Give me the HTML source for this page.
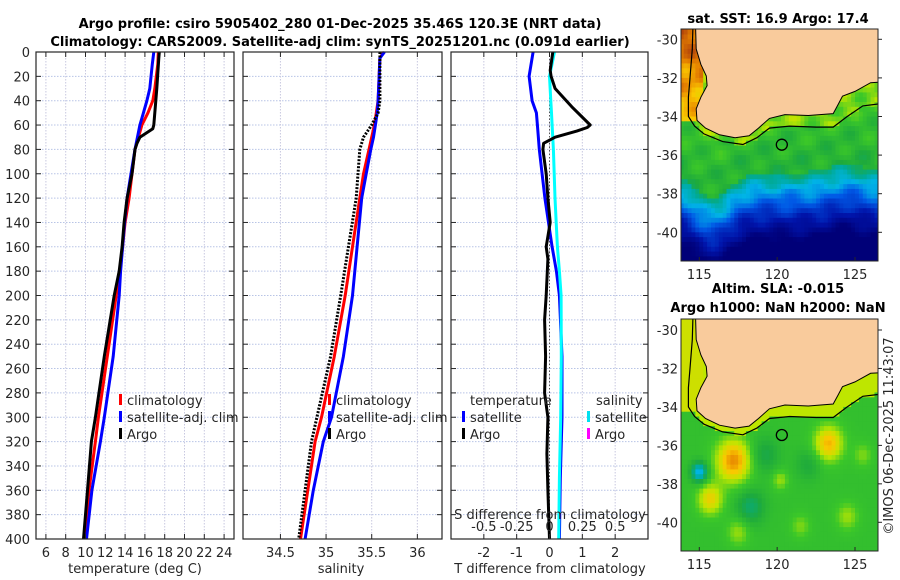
<!DOCTYPE html>
<html><head><meta charset="utf-8">
<style>
body{margin:0;background:#fff;}
svg{display:block;font-family:"DejaVu Sans","Liberation Sans",sans-serif;}
.t{font-size:13px;fill:#262626;}
.b{font-weight:bold;fill:#000;font-size:13px;}
</style></head>
<body>
<svg id="fig" width="900" height="580" viewBox="0 0 900 580">
<defs>
<clipPath id="c1"><rect x="681" y="29" width="197" height="232"/></clipPath>
<clipPath id="c2"><rect x="681" y="319" width="197" height="232"/></clipPath>
</defs>
<text class="b" x="340" y="28" text-anchor="middle">Argo profile: csiro 5905402_280 01-Dec-2025 35.46S 120.3E (NRT data)</text>
<text class="b" x="340" y="46" text-anchor="middle">Climatology: CARS2009. Satellite-adj clim: synTS_20251201.nc (0.091d earlier)</text>
<text class="b" x="778" y="23" text-anchor="middle">sat. SST: 16.9 Argo: 17.4</text>
<text class="b" x="778" y="293" text-anchor="middle">Altim. SLA: -0.015</text>
<text class="b" x="778" y="312" text-anchor="middle">Argo h1000: NaN h2000: NaN</text>
<text class="t" transform="translate(893,436) rotate(-90)" text-anchor="middle">©IMOS 06-Dec-2025 11:43:07</text>
<g id="plots"></g>
</svg>
<script>
// ---- data ----
const tDepth   = [0,5,30,40,50,60,63,70,75,80,100,120,140,160,180,200,250,300,320,360,400];
const tArgo    = [17.45,17.4,17.2,17.1,17.0,16.9,16.8,15.5,15.2,15.0,14.7,14.2,13.9,13.7,13.4,12.9,11.9,11.0,10.6,10.2,9.8];
const cDepth   = [0,10,30,40,50,60,80,100,120,140,160,180,200,250,300,320,360,400];
const tClim    = [17.35,17.3,17.0,16.8,16.3,15.7,15.0,14.7,14.4,14.0,13.75,13.5,13.1,12.2,11.3,11.0,10.35,9.9];
const tSat     = [16.9,16.75,16.5,16.2,15.85,15.5,15.0,14.6,14.2,13.95,13.75,13.55,13.4,12.8,11.9,11.5,10.65,10.1];
const sDepth   = [0,5,40,50,60,70,80,100,120,200,250,300,320,360,400];
const sArgo    = [35.59,35.59,35.59,35.57,35.50,35.41,35.37,35.35,35.33,35.16,35.05,34.90,34.84,34.77,34.70];
const sClim    = [35.63,35.59,35.57,35.55,35.53,35.50,35.47,35.41,35.37,35.21,35.09,34.95,34.88,34.80,34.72];
const sSat     = [35.64,35.59,35.57,35.56,35.54,35.52,35.49,35.44,35.39,35.29,35.19,35.06,34.97,34.86,34.77];
const dDepth   = [0,20,40,50,60,80,120,160,180,200,250,300,350,400];
const dTSat    = [-0.5,-0.62,-0.53,-0.4,-0.37,-0.31,-0.14,0.08,0.21,0.3,0.38,0.38,0.33,0.3];
const dSSat    = [0.038,0,0.01,0.015,0.02,0.03,0.042,0.06,0.075,0.088,0.09,0.085,0.075,0.07];
const aDepth   = [0,15,20,30,45,60,62,65,70,75,80,100,120,140,160,170,200,220,250,280,300,330,360,400];
const dTArgo   = [0.1,0.02,0.05,0.17,0.68,1.24,1.15,0.83,0.17,-0.18,-0.2,-0.1,-0.05,0.02,-0.1,-0.05,-0.1,-0.15,-0.12,-0.15,-0.05,-0.08,-0.05,0];
const depthTicks = [0,20,40,60,80,100,120,140,160,180,200,220,240,260,280,300,320,340,360,380,400];
const tTicks   = [6,8,10,12,14,16,18,20,22,24];
const sTicks   = [34.5,35,35.5,36];
const sTickLbl = ["34.5","35","35.5","36"];
const dtTicks  = [-2,-1,0,1,2];
const dsTicks  = [-0.5,-0.25,0,0.25,0.5];
const dsTickLbl= ["-0.5","-0.25","0","0.25","0.5"];

const NS="http://www.w3.org/2000/svg";
const G=document.getElementById('plots');
function el(tag,attrs,parent){const e=document.createElementNS(NS,tag);for(const k in attrs)e.setAttribute(k,attrs[k]);(parent||G).appendChild(e);return e;}
const Y0=52,Y1=539;
function yD(d){return Y0+d/400*(Y1-Y0);}
function panel(x0,x1,min,max,name){
  const xs=v=>x0+(v-min)/(max-min)*(x1-x0);
  const g=el('g',{});
  
  
  return {x0,x1,xs,g};
}
function grid(p,xt){
  depthTicks.forEach(d=>{const l=el('line',{x1:p.x0,x2:p.x1,y1:yD(d),y2:yD(d),stroke:'#b8c4e6','stroke-width':1,'stroke-dasharray':'1.5,1.5'},p.g);});
  xt.forEach(v=>{const l=el('line',{x1:p.xs(v),x2:p.xs(v),y1:Y0,y2:Y1,stroke:'#c8c8e0','stroke-width':1,'stroke-dasharray':'1.5,1.5'},p.g);});
}
function frame(p,xt,xl,leftLabels){
  const r=el('rect',{x:p.x0,y:Y0,width:p.x1-p.x0,height:Y1-Y0,fill:'none',stroke:'#262626','stroke-width':1.2},p.g);
  
  depthTicks.forEach(d=>{
    el('line',{x1:p.x0,x2:p.x0+5,y1:yD(d),y2:yD(d),stroke:'#262626'},p.g);
    el('line',{x1:p.x1-5,x2:p.x1,y1:yD(d),y2:yD(d),stroke:'#262626'},p.g);
    if(leftLabels){const t=el('text',{x:p.x0-6,y:yD(d)+5,'text-anchor':'end',class:'t'},p.g);t.textContent=d;}
  });
  xt.forEach((v,i)=>{
    el('line',{x1:p.xs(v),x2:p.xs(v),y1:Y1,y2:Y1-5,stroke:'#262626'},p.g);
    el('line',{x1:p.xs(v),x2:p.xs(v),y1:Y0,y2:Y0+5,stroke:'#262626'},p.g);
    const t=el('text',{x:p.xs(v),y:Y1+18,'text-anchor':'middle',class:'t'},p.g);t.textContent=xl?xl[i]:v;
    
  });
}
function line(p,xv,dv,color,name,dash,w){
  const pts=xv.map((v,i)=>p.xs(v).toFixed(1)+','+yD(dv[i]).toFixed(1)).join(' ');
  const l=el('polyline',{points:pts,fill:'none',stroke:color,'stroke-width':w||3,'stroke-linejoin':'round'},p.g);
  if(dash)l.setAttribute('stroke-dasharray',dash);
  
}
function txt(x,y,s,name,anchor,g){const t=el('text',{x,y,class:'t','text-anchor':anchor||'start'},g);t.textContent=s;return t;}
function legendItem(x,y,color,label,name,g){
  const r=el('rect',{x:x,y:y-11,width:3,height:11,fill:color},g);
  
  txt(x+8,y,label,name,'start',g);
}
// Panel 1
const p1=panel(36,234,5,25,'temperature-panel');
grid(p1,tTicks);
line(p1,tClim,cDepth,'#ff0000','temp-climatology-line');
line(p1,tSat,cDepth,'#0000ff','temp-satellite-line');
line(p1,tArgo,tDepth,'#000000','temp-argo-line');
frame(p1,tTicks,null,true);
txt(135,573,'temperature (deg C)','x-axis-title-temperature','middle',p1.g);
legendItem(119,405,'#ff0000','climatology','legend-climatology',p1.g);
legendItem(119,422,'#0000ff','satellite-adj. clim','legend-satellite-adj',p1.g);
legendItem(119,439,'#000000','Argo','legend-argo',p1.g);
// Panel 2
const p2=panel(243,442,34.09,36.27,'salinity-panel');
grid(p2,sTicks);
line(p2,sClim,sDepth,'#ff0000','sal-climatology-line');
line(p2,sSat,sDepth,'#0000ff','sal-satellite-line');
line(p2,sArgo,sDepth,'#000000','sal-argo-line','2,1.5');
frame(p2,sTicks,sTickLbl,false);
txt(341,573,'salinity','x-axis-title-salinity','middle',p2.g);
legendItem(328,405,'#ff0000','climatology','legend-climatology-s',p2.g);
legendItem(328,422,'#0000ff','satellite-adj. clim','legend-satellite-adj-s',p2.g);
legendItem(328,439,'#000000','Argo','legend-argo-s',p2.g);
// Panel 3
const p3=panel(451,648,-3,3,'difference-panel');
const p3s=v=>p3.xs(v*4);
grid(p3,dtTicks);
line(p3,[0,0],[0,400],'#555','zero-line','1.5,2',1);
line(p3,dTSat,dDepth,'#0000ff','temp-diff-satellite-line');
line(p3,dSSat.map(v=>v*4),dDepth,'#00ffff','sal-diff-satellite-line');
line(p3,dTArgo,aDepth,'#000000','temp-diff-argo-line');
frame(p3,dtTicks,null,false);
dsTicks.forEach((v,i)=>{txt(p3s(v),531,dsTickLbl[i],'s-tick-label','middle',p3.g);});
txt(550,519,'S difference from climatology','s-axis-title','middle',p3.g);
txt(550,573,'T difference from climatology','t-axis-title','middle',p3.g);
txt(470,405,'temperature','legend-title-temperature','start',p3.g);
txt(596,405,'salinity','legend-title-salinity','start',p3.g);
legendItem(462,422,'#0000ff','satellite','legend-t-satellite',p3.g);
legendItem(462,439,'#000000','Argo','legend-t-argo',p3.g);
legendItem(587,422,'#00e0f0','satellite','legend-s-satellite',p3.g);
legendItem(587,439,'#ff00ff','Argo','legend-s-argo',p3.g);

// ---- maps ----
const lonTicks=[115,120,125];
const latTicks=[-30,-32,-34,-36,-38,-40];
const coast=[[114.75,-29],[114.8,-30.5],[115.1,-31.3],[115.45,-31.9],[115.5,-32.4],[115.1,-33.0],[114.8,-33.6],[114.85,-34.2],[115.4,-34.6],[116.3,-34.95],[117.3,-35.1],[118.2,-35.0],[118.8,-34.6],[119.5,-34.1],[120.5,-33.9],[122,-33.95],[123.6,-33.85],[123.9,-33.4],[124.2,-32.95],[125,-32.7],[126,-32.25],[127,-32.2],[127,-29]];
const shelf=[[114.6,-29],[114.55,-30.5],[114.4,-32],[114.3,-33],[114.3,-34.0],[114.7,-34.5],[115.3,-34.9],[116.5,-35.3],[117.8,-35.45],[118.7,-35.1],[119.5,-34.6],[120.8,-34.5],[122.5,-34.55],[123.6,-34.55],[124.5,-34.0],[125.5,-33.45],[127,-33.3]];
function interp(arr,lon){
  for(let i=1;i<arr.length;i++){if(lon<=arr[i][0]){const a=arr[i-1],b=arr[i];const f=(lon-a[0])/((b[0]-a[0])||1);return a[1]+(b[1]-a[1])*f;}}
  return arr[arr.length-1][1];
}
const shelfSouth=shelf.slice(5);
function onShelf(lon,lat){
  if(lon<114.7) return lon>114.35 && lat>-34.3;
  return lat>interp(shelfSouth,lon);
}
function gauss(x,c,w){return Math.exp(-Math.pow((x-c)/w,2));}
function jet(v){
  const st=[[0,[0,0,120]],[0.15,[0,20,170]],[0.3,[0,90,230]],[0.42,[0,180,230]],[0.5,[0,170,150]],[0.6,[30,170,60]],[0.7,[60,200,40]],[0.78,[190,230,0]],[0.86,[250,200,0]],[0.93,[230,130,0]],[1,[180,70,10]]];
  v=Math.max(0,Math.min(1,v));
  for(let i=1;i<st.length;i++){if(v<=st[i][0]){const a=st[i-1],b=st[i],f=(v-a[0])/(b[0]-a[0]);return 'rgb('+a[1].map((c,k)=>Math.round(c+(b[1][k]-c)*f)).join(',')+')';}}
  return 'rgb(180,70,10)';
}
function sst(lon,lat){
  const s=-36.9-1.3*gauss(lon,115.8,1.6)+0.4*gauss(lon,124.5,1.5);
  let v;
  if(lat>s) v=0.62+(lat-s)*0.02;
  else v=0.55-(s-lat)*0.16;
  if(onShelf(lon,lat)) v=0.74;
  if(lon<115.3&&lat>-34.2) v=0.86+(lat+34)*0.025;
  const n=Math.sin(lon*3.1+lat*2.3)*0.025+Math.cos(lon*1.7-lat*4.1)*0.025;
  return v+n;
}
const blobs=[[117.2,-36.8,0.92,1.1],[123.3,-35.9,0.88,0.9],[115.7,-38.8,0.84,0.8],[115,-37.4,0.4,0.5],[118.3,-39.2,0.55,0.9],[119.2,-36.5,0.58,0.9],[122,-37,0.6,0.8],[120.2,-37.8,0.76,0.5],[124.5,-39.7,0.76,0.7],[117.5,-40.5,0.76,0.7],[125.5,-36.5,0.74,0.6],[121.5,-40.2,0.74,0.6]];
function sla(lon,lat){
  let acc=0;
  blobs.forEach(b=>{const d2=(Math.pow(lon-b[0],2)+Math.pow(lat-b[1],2))/(b[3]*b[3]);acc+=Math.exp(-d2)*(b[2]-0.67);});
  let v=0.67+acc;
  if(onShelf(lon,lat)) v=0.78;
  if(lon<115.3&&lat>-34.2) v=0.8;
  return v;
}
function map(top,lat30,lat40,clip,fn,name){
  const x0=681,x1=878,bot=top+232;
  const xl=lon=>699.3+(lon-115)*15.57;
  const yl=lat=>lat30+(-30-lat)*(lat40-lat30)/10;
  const g=el('g',{});
  
  const cg=el('g',{'clip-path':'url(#'+clip+')'},g);
  const step=0.25;
  for(let lon=113.75;lon<126.75;lon+=step){for(let lat=-29.25;lat>-41.75;lat-=step){
    el('rect',{x:xl(lon).toFixed(1),y:yl(lat).toFixed(1),width:(step*15.57+0.6).toFixed(1),height:(step*19.3+0.6).toFixed(1),fill:jet(fn(lon+step/2,lat-step/2))},cg);
  }}
  const land=el('polygon',{points:coast.map(c=>xl(c[0]).toFixed(1)+','+yl(c[1]).toFixed(1)).join(' '),fill:'#f9cb9c',stroke:'#000','stroke-width':1},cg);
  
  const sh=el('polyline',{points:shelf.map(c=>xl(c[0]).toFixed(1)+','+yl(c[1]).toFixed(1)).join(' '),fill:'none',stroke:'#000','stroke-width':1.2},cg);
  
  const ci=el('circle',{cx:xl(120.3),cy:yl(-35.46),r:5.5,fill:'none',stroke:'#000','stroke-width':1.3},g);
  
  el('rect',{x:x0,y:top,width:x1-x0,height:232,fill:'none',stroke:'#262626','stroke-width':1},g);
  lonTicks.forEach(l=>{el('line',{x1:xl(l),x2:xl(l),y1:bot,y2:bot-4,stroke:'#262626'},g);txt(xl(l),bot+18,l,'lon-tick-label','middle',g);});
  latTicks.forEach(l=>{el('line',{x1:x1,x2:x1+4,y1:yl(l),y2:yl(l),stroke:'#262626'},g);txt(x0-3,yl(l)+5,l,'lat-tick-label','end',g);});
}
map(29,39.3,232.3,'c1',sst,'sst-map');
map(319,330,522.3,'c2',sla,'sla-map');
</script>
</body></html>
